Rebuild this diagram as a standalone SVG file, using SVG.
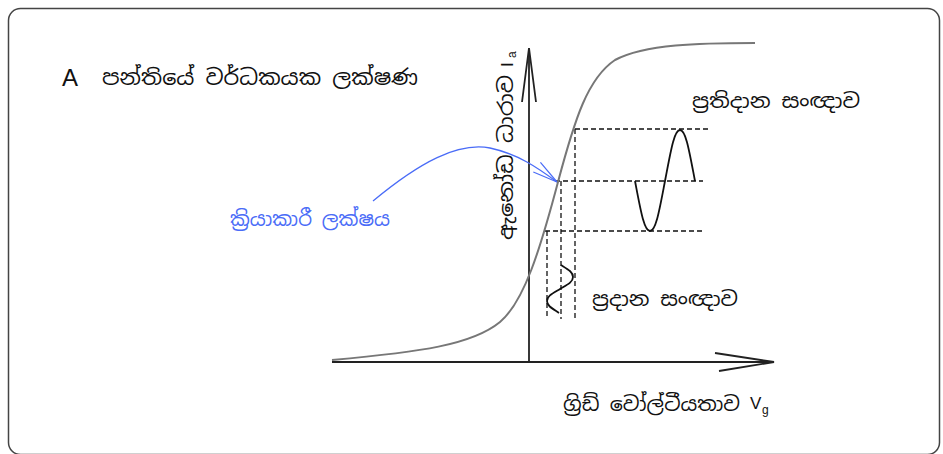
<svg xmlns="http://www.w3.org/2000/svg" width="943" height="454" viewBox="0 0 943 454">
<style>
.si{font-family:"Noto Sans Sinhala","Noto Serif Sinhala","Iskoola Pota","Noto Sans","DejaVu Sans",sans-serif;fill:#111}
.la{font-family:"Liberation Sans",Arial,sans-serif;fill:#111}
.dash{stroke:#111;stroke-width:1.3;stroke-dasharray:5 3;fill:none}
.ax{stroke:#222;stroke-width:1.8;fill:none}
.wave{stroke:#111;stroke-width:1.8;fill:none}
</style>
<defs>
<marker id="ab" markerWidth="30" markerHeight="16" refX="28" refY="8" orient="auto" markerUnits="userSpaceOnUse">
<path d="M3,2 L28,8 L3,14" fill="none" stroke="#4a6cf7" stroke-width="1.2"/>
</marker>
</defs>
<g id="frame">
<rect x="8.5" y="8.5" width="931" height="446" rx="12" fill="#fff" stroke="#444" stroke-width="1.5"/>
</g>
<g id="title">
<text class="la" x="62" y="86" font-size="24">A</text>
<text class="si" x="102" y="85" font-size="21" textLength="316" lengthAdjust="spacingAndGlyphs">පන්තියේ වර්ධකයක ලක්ෂණ</text>
</g>
<g id="connectors">
<g id="axes">
<line class="ax" x1="529" y1="50" x2="529" y2="363"/>
<path class="ax" d="M522,102 L529,48 L536,102"/>
<line class="ax" x1="332" y1="362" x2="774" y2="362"/>
<path class="ax" d="M715,353 L774,362 L719,371"/>
</g>
<g id="dashed-lines">
<line class="dash" x1="575" y1="129" x2="710" y2="129"/>
<line class="dash" x1="555" y1="181" x2="703" y2="181"/>
<line class="dash" x1="545" y1="231" x2="705" y2="231"/>
<line class="dash" x1="547" y1="231" x2="547" y2="319"/>
<line class="dash" x1="561" y1="181" x2="561" y2="319"/>
<line class="dash" x1="575" y1="129" x2="575" y2="319"/>
</g>
<path id="pointer" d="M373,201 C420,162 458,142 490,148 C518,154 538,168 557,182" fill="none" stroke="#4a6cf7" stroke-width="1.3" marker-end="url(#ab)"/>
</g>
<g id="characteristic">
<path d="M332,360 C420,352 472,345 500,322 C524,302 540,250 558,182 C575,118 588,78 615,60 C645,44 700,43 755,43" fill="none" stroke="#777" stroke-width="2"/>
</g>
<g id="output-signal">
<path class="wave" d="M635,181 C640.5,209.6 644,231 650,231 C656,231 659.5,209.6 665,181 C670.5,152.4 674,130 680,130 C686,130 689.5,152.4 695,181"/>
<text class="si" x="692" y="108" font-size="20" textLength="168" lengthAdjust="spacingAndGlyphs">ප්‍රතිදාන සංඥාව</text>
</g>
<g id="input-signal">
<path class="wave" d="M561,265 C568,269.4 573,272 573,277 C573,282 567.4,284.6 560,289 C552.6,293.4 547,296 547,301 C547,306 552.6,308.6 559,313"/>
<text class="si" x="592" y="306" font-size="20" textLength="146" lengthAdjust="spacingAndGlyphs">ප්‍රදාන සංඥාව</text>
</g>
<g id="operating-point">
<text class="si" x="230" y="226" font-size="20" textLength="160" lengthAdjust="spacingAndGlyphs" style="fill:#4a6cf7">ක්‍රියාකාරී ලක්ෂය</text>
</g>
<g id="y-label">
<g transform="translate(513,240) rotate(-90)">
<text class="si" x="0" y="0" font-size="20" textLength="165" lengthAdjust="spacingAndGlyphs">ඇනෝඩ ධාරාව</text>
<text class="la" x="173" y="0" font-size="17">I</text>
<text class="la" x="182" y="3" font-size="12">a</text>
</g>
</g>
<g id="x-label">
<text class="si" x="563" y="411" font-size="20" textLength="177" lengthAdjust="spacingAndGlyphs">ග්‍රිඩ් වෝල්ටීයතාව</text>
<text class="la" x="750" y="409" font-size="17">V</text>
<text class="la" x="762" y="414" font-size="12">g</text>
</g>
</svg>
